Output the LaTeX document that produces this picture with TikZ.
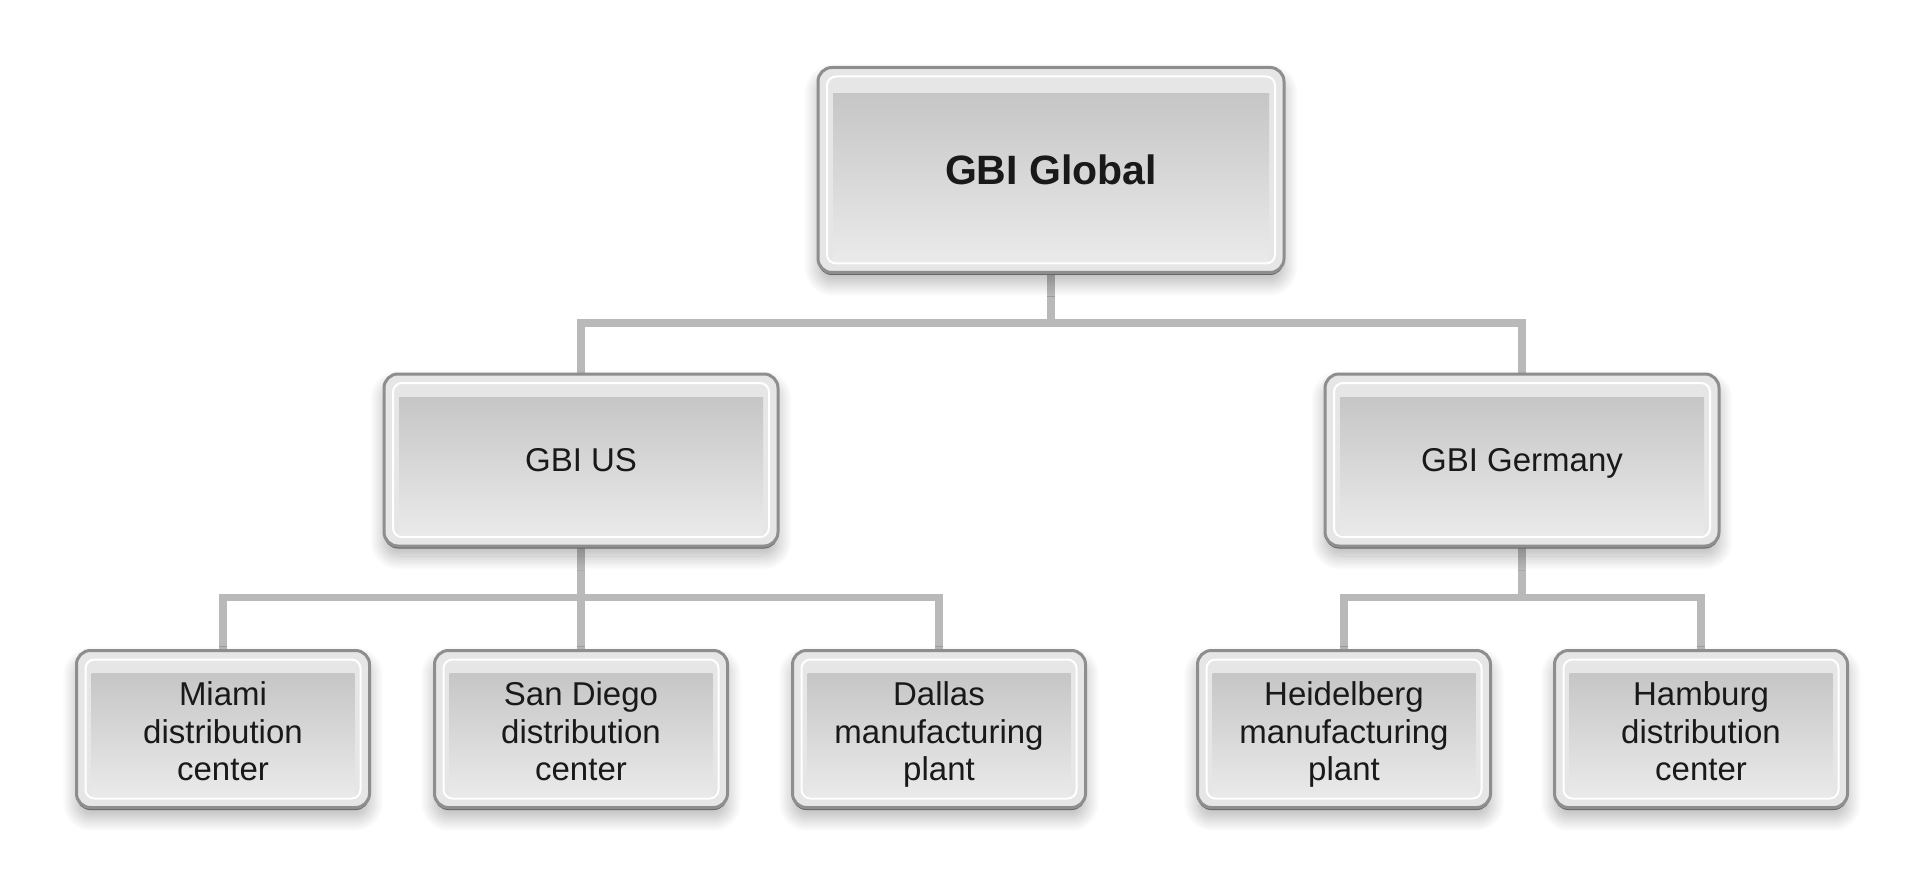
\documentclass[tikz,border=0pt]{standalone}
\usepackage{fontspec}
\setmainfont{Liberation Sans}
\usepackage{tikz}
\usetikzlibrary{positioning, shadows, shadows.blur, backgrounds}

\definecolor{boxfill}{HTML}{E6E6E6}
\definecolor{boxrim}{HTML}{8E8E8E}
\definecolor{boxrimdark}{HTML}{666666}
\definecolor{paneltop}{HTML}{C6C6C6}
\definecolor{panelbot}{HTML}{EAEAEA}
\definecolor{linkgray}{HTML}{B9B9B9}

\tikzset{
    unit/.style={rectangle, rounded corners=14pt, draw=boxrim, line width=3pt,
        fill=boxfill, inner sep=0pt, align=center, text=black!90,
        blur shadow={shadow xshift=0pt, shadow yshift=-10pt,
            shadow blur radius=14pt, shadow blur steps=20, shadow opacity=30},
        general shadow={fill=boxrimdark, shadow yshift=-2.5pt},
        path picture={
            \draw[white, line width=2pt, rounded corners=9pt]
                ([shift={(9pt,-9pt)}]path picture bounding box.north west) rectangle
                ([shift={(-9pt,9pt)}]path picture bounding box.south east);
            \shade[sharp corners, top color=paneltop, bottom color=panelbot]
                ([shift={(15pt,-#1)}]path picture bounding box.north west) rectangle
                ([shift={(-15pt,11pt)}]path picture bounding box.south east);
        }},
    top unit/.style={unit=26pt, minimum width=466pt, minimum height=205pt,
        text height=30pt, text depth=0pt,
        font=\bfseries\fontsize{41}{46}\selectfont},
    mid unit/.style={unit=23pt, minimum width=394pt, minimum height=172pt,
        text height=23pt, text depth=0pt,
        font=\fontsize{33}{37.5}\selectfont},
    leaf unit/.style={unit=23pt, minimum width=293pt, minimum height=157pt,
        text height=103pt, text depth=0pt,
        font=\fontsize{33}{37.5}\selectfont},
    link/.style={draw=linkgray, line width=7.5pt}
}

\begin{document}
\begin{tikzpicture}[node distance=358pt, on grid]
    \useasboundingbox (0pt,0pt) rectangle (1925pt,-893pt);

    \node[top unit] (GBI) at (1051pt,-170pt) {GBI Global};

    \node[mid unit] (US) [below left=290pt and 470pt of GBI] {GBI US};
    \node[mid unit] (DE) [below right=290pt and 471pt of GBI] {GBI Germany};

    \node[leaf unit] (SD) [below=269pt of US] {San Diego\\distribution\\center};
    \node[leaf unit] (MIA) [left=of SD] {Miami\\distribution\\center};
    \node[leaf unit] (DAL) [right=of SD] {Dallas\\manufacturing\\plant};

    \node[leaf unit] (HEI) [below left=269pt and 178pt of DE] {Heidelberg\\manufacturing\\plant};
    \node[leaf unit] (HAM) [right=357pt of HEI] {Hamburg\\distribution\\center};

    \begin{scope}[on background layer]
        \path[link]
        (GBI.south) -- ++(0,-49pt) -| (US.north)
        (GBI.south) -- ++(0,-49pt) -| (DE.north)
        (US.south) -- ++(0,-50pt) -| (MIA.north)
        (US.south) -- (SD.north)
        (US.south) -- ++(0,-50pt) -| (DAL.north)
        (DE.south) -- ++(0,-50pt) -| (HEI.north)
        (DE.south) -- ++(0,-50pt) -| (HAM.north)
        ;
    \end{scope}
\end{tikzpicture}
\end{document}
